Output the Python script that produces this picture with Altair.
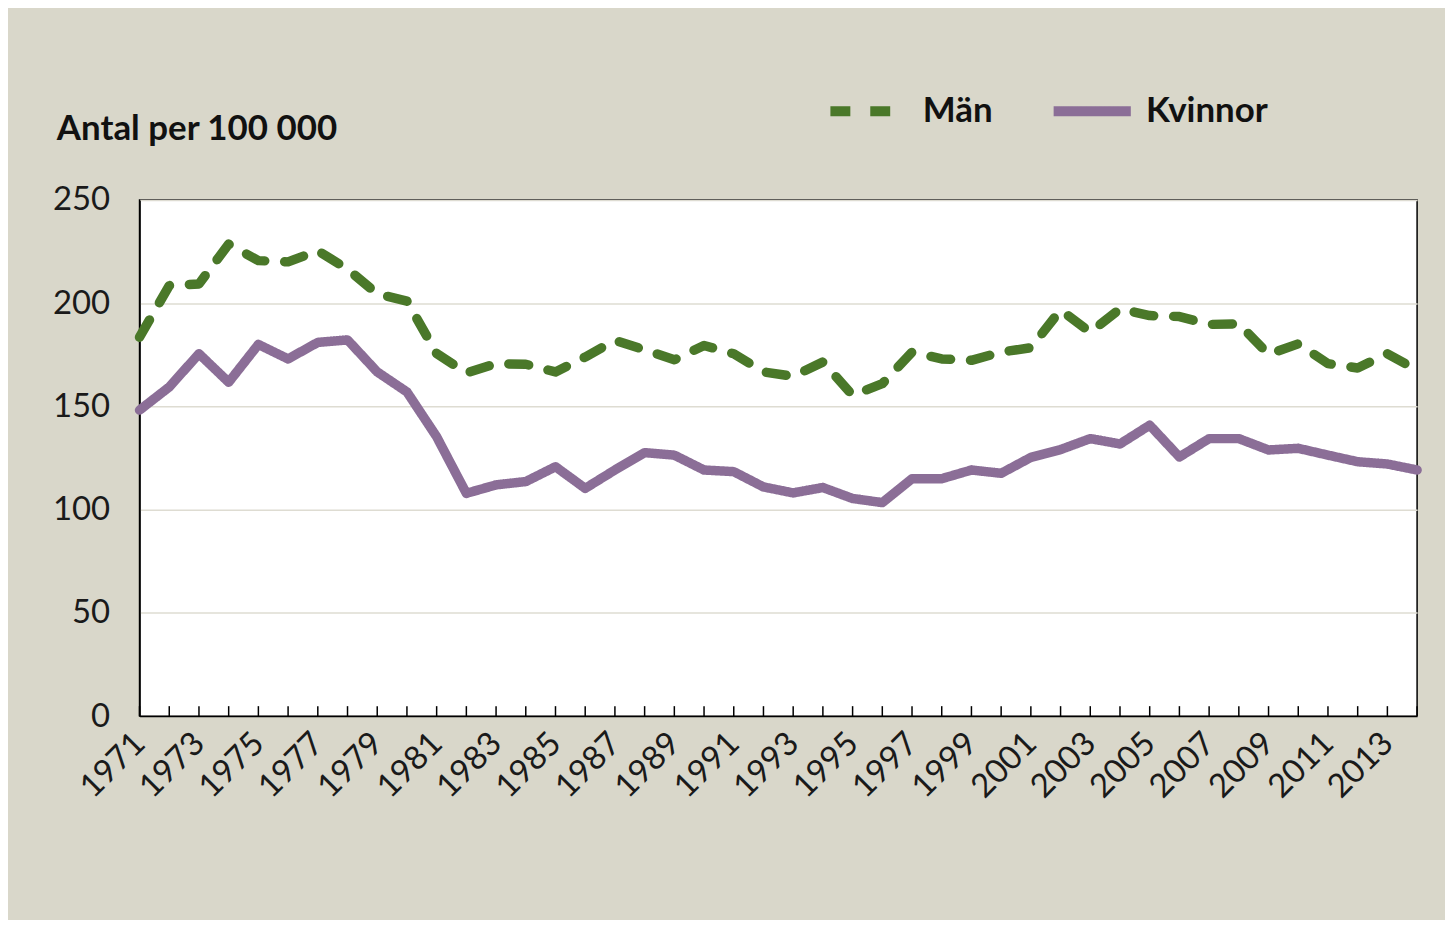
import altair as alt
import pandas as pd

years = list(range(1971, 2015))
man = [183.5, 208.5, 209.3, 228.6, 220.6, 220.0, 225.4, 216.5, 204.5, 201.0,
       175.6, 166.2, 170.7, 170.4, 166.7, 173.9, 182.0, 177.4, 172.6, 179.5,
       175.5, 166.7, 164.6, 171.5, 155.4, 161.0, 176.3, 173.0, 172.3, 176.3,
       178.4, 196.7, 185.9, 197.2, 194.0, 193.5, 189.7, 190.0, 175.2, 180.3,
       170.7, 168.6, 175.5, 167.5]
kvinnor = [148.2, 159.4, 175.5, 161.7, 180.0, 173.0, 181.0, 182.2, 166.7, 157.0,
           135.3, 107.9, 112.0, 113.6, 120.8, 110.3, 119.2, 127.6, 126.4, 119.2,
           118.4, 111.0, 108.1, 110.7, 105.4, 103.4, 115.0, 115.0, 119.2, 117.6,
           125.3, 129.1, 134.4, 131.8, 140.9, 125.5, 134.4, 134.4, 128.9, 129.7,
           126.4, 123.2, 122.1, 119.2]
series = ["Män", "Kvinnor"]
colors = ["#4a7829", "#8b6e97"]
y_ticks = [0, 50, 100, 150, 200, 250]
x_labels = list(range(1971, 2014, 2))
title_text = ["Antal per 100 000"]

df = pd.DataFrame(
    [{"År": y, "Värde": v, "Kön": "Män"} for y, v in zip(years, man)]
    + [{"År": y, "Värde": v, "Kön": "Kvinnor"} for y, v in zip(years, kvinnor)]
)
ticks_df = pd.DataFrame({"År": years})
title_df = pd.DataFrame({"t": title_text})

FONT = "Lato"
W, H = 1282, 518

x_enc = alt.X(
    "År:Q",
    scale=alt.Scale(domain=[1971, 2014], nice=False, zero=False),
    axis=alt.Axis(values=x_labels, format="d", title=None, ticks=False, grid=False,
                  labelAngle=-45, labelAlign="right", labelBaseline="middle",
                  labelPadding=22, labelFontSize=33, labelFont=FONT,
                  labelColor="#1a1a1a", domainColor="#000000", domainWidth=1.5,
                  labelOverlap=False),
)

lines = alt.Chart(df).mark_line(strokeWidth=9.5, strokeCap="round", strokeJoin="round").encode(
    x=x_enc,
    y=alt.Y(
        "Värde:Q",
        scale=alt.Scale(domain=[0, 250], nice=False),
        axis=alt.Axis(values=y_ticks, title=None, ticks=False, grid=True,
                      gridColor="#dedcd2", gridWidth=1.5, labelPadding=30,
                      labelFontSize=33, labelFont=FONT, labelColor="#1a1a1a",
                      domainColor="#000000", domainWidth=1.5),
    ),
    color=alt.Color(
        "Kön:N",
        scale=alt.Scale(domain=series, range=colors),
        legend=alt.Legend(
            title=None, orient="none", direction="horizontal",
            legendX=688, legendY=-133, symbolType="stroke",
            symbolSize=6000, symbolStrokeWidth=10, labelFontSize=35,
            labelFont=FONT, labelFontWeight="bold", labelColor="#111111",
            labelOffset=10, columnPadding=40, labelLimit=300,
        ),
    ),
    strokeDash=alt.StrokeDash(
        "Kön:N",
        scale=alt.Scale(domain=series, range=[[20, 20], [1, 0]]),
        legend=alt.Legend(title=None),
    ),
)

tick_rules = alt.Chart(ticks_df).mark_rule(color="#000000", strokeWidth=1.5).encode(
    x=alt.X("År:Q"),
    y=alt.value(H),
    y2=alt.value(H - 10),
)

title_mark = alt.Chart(title_df).mark_text(
    align="left", baseline="alphabetic", font=FONT, fontSize=35,
    fontWeight="bold", color="#111111",
).encode(x=alt.value(-83), y=alt.value(-60), text="t:N")

chart = alt.layer(tick_rules, lines, title_mark).properties(
    width=W,
    height=H,
    background="#d9d7ca",
    autosize=alt.AutoSizeParams(type="none"),
    padding={"left": 132, "top": 191, "right": 28, "bottom": 203},
).configure_view(stroke="#000000", strokeWidth=1.5, fill="#ffffff")

chart.save("out.html", embed_options={"renderer": "svg", "actions": False})
